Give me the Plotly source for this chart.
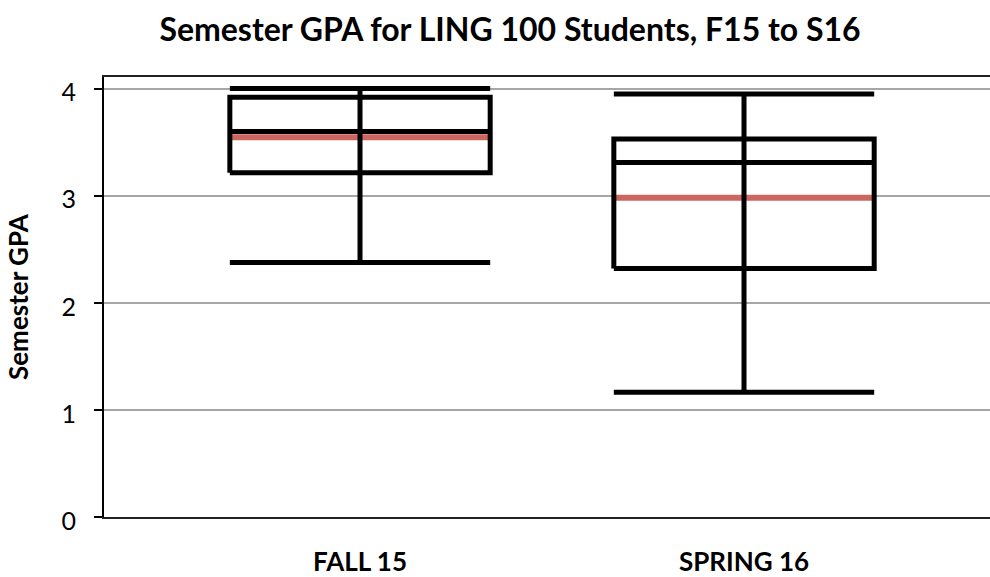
import plotly.graph_objects as go

# Semester GPA summary statistics per term
terms = ["FALL 15", "SPRING 16"]
gpa_min = [2.375, 1.165]
gpa_q1 = [3.215, 2.32]
gpa_median = [3.60, 3.31]
gpa_mean = [3.545, 2.98]
gpa_q3 = [3.92, 3.53]
gpa_max = [4.0, 3.95]

y_ticks = [0, 1, 2, 3, 4]

half_w = 0.339  # half width of each box, in category units
black = "#000000"
mean_color = "#cc6660"
lw = 5

fig = go.Figure()

for i, term in enumerate(terms):
    x0, x1 = i - half_w, i + half_w
    # mean line (drawn first so the black strokes sit over it)
    fig.add_trace(go.Scatter(
        x=[x0, x1], y=[gpa_mean[i]] * 2, mode="lines",
        line=dict(color=mean_color, width=6), hoverinfo="skip", showlegend=False))
    # box outline Q1..Q3
    fig.add_trace(go.Scatter(
        x=[x0, x1, x1, x0, x0], y=[gpa_q1[i], gpa_q1[i], gpa_q3[i], gpa_q3[i], gpa_q1[i]],
        mode="lines", line=dict(color=black, width=lw), hoverinfo="skip", showlegend=False))
    # median
    fig.add_trace(go.Scatter(
        x=[x0, x1], y=[gpa_median[i]] * 2, mode="lines",
        line=dict(color=black, width=lw), hoverinfo="skip", showlegend=False))
    # whisker spine from min to max
    fig.add_trace(go.Scatter(
        x=[i, i], y=[gpa_min[i], gpa_max[i]], mode="lines",
        line=dict(color=black, width=lw), hoverinfo="skip", showlegend=False))
    # whisker caps
    for v in (gpa_min[i], gpa_max[i]):
        fig.add_trace(go.Scatter(
            x=[x0, x1], y=[v, v], mode="lines",
            line=dict(color=black, width=lw), hoverinfo="skip", showlegend=False))

font_family = "Lato, 'Open Sans', sans-serif"

fig.update_layout(
    width=990, height=577,
    margin=dict(l=104, r=0, t=77, b=60),
    paper_bgcolor="white", plot_bgcolor="white",
    title=dict(
        text="<b>Semester GPA for LING 100 Students, F15 to S16</b>",
        x=510 / 990, xanchor="center", y=1 - 30 / 577, yanchor="middle",
        font=dict(family=font_family, size=32, color="black")),
    xaxis=dict(
        range=[-0.6667, 1.6406], tickmode="array", tickvals=[0, 1], ticktext=[f"<b>{t}</b>" for t in terms],
        showgrid=False, zeroline=False, showline=True, linecolor="#222222", linewidth=2,
        mirror=True, ticks="", ticklabelstandoff=21, automargin=False,
        tickfont=dict(family=font_family, size=26, color="black")),
    yaxis=dict(
        range=[0, 4.108], tickmode="array", tickvals=y_ticks,
        showgrid=True, gridcolor="#a6a6a6", gridwidth=2, zeroline=False,
        showline=True, linecolor="black", linewidth=2, automargin=False,
        ticks="outside", ticklen=8, tickwidth=2, tickcolor="black",
        ticklabelstandoff=13, ticklabelshift=4,
        tickfont=dict(family=font_family, size=25, color="black")),
)

# rotated y-axis title placed in paper coordinates
fig.add_annotation(
    text="<b>Semester GPA</b>", xref="paper", yref="paper",
    x=(18 - 104) / 886, y=(517 - 297) / 440, xanchor="center", yanchor="middle",
    textangle=-90, showarrow=False,
    font=dict(family=font_family, size=26, color="black"))

fig.write_html("out.html")
